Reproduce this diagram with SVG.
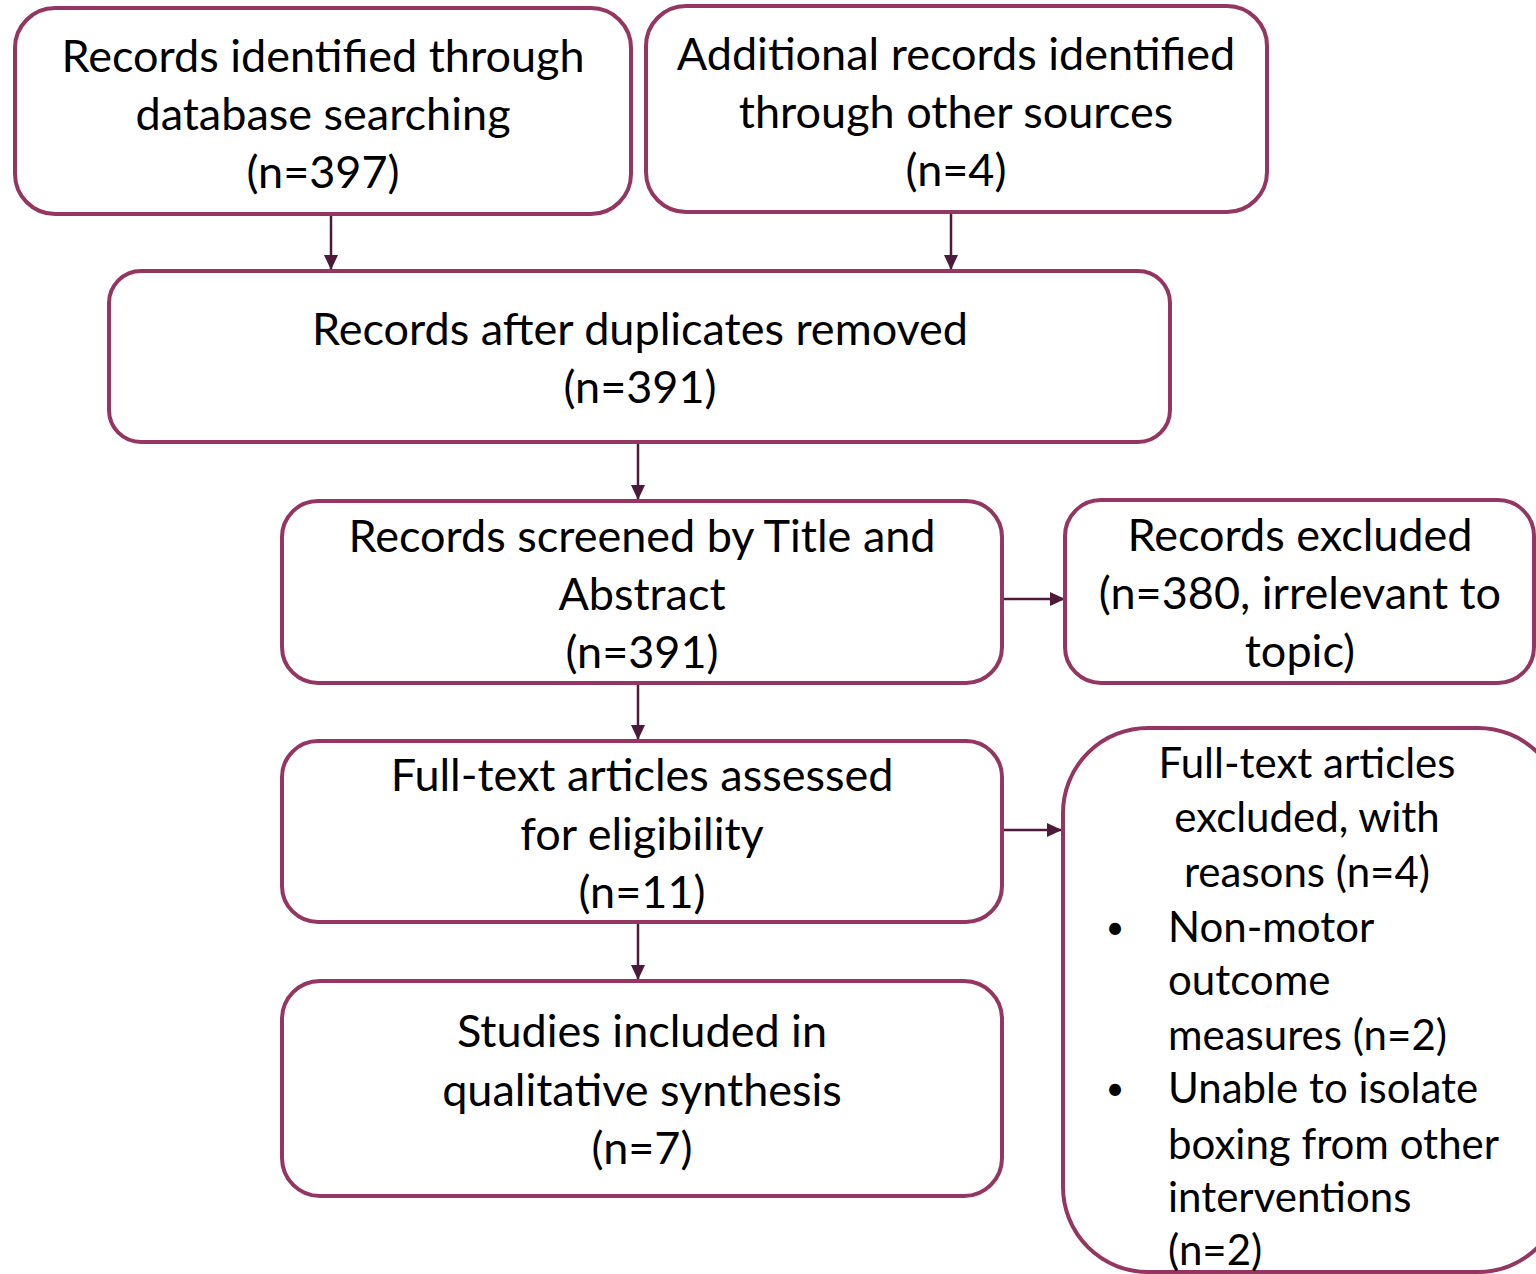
<svg xmlns="http://www.w3.org/2000/svg" width="1536" height="1274" viewBox="0 0 1536 1274">
<defs>
<style>
.box{fill:#fff;stroke:#953562;stroke-width:4}
.t{font-family:Lato,"Liberation Sans",sans-serif;font-size:45px;fill:#000;text-anchor:middle}
.s{font-family:Lato,"Liberation Sans",sans-serif;font-size:42px;fill:#000;text-anchor:middle}
.l{font-family:Lato,"Liberation Sans",sans-serif;font-size:42px;fill:#000}
.b{font-family:Lato,"Liberation Sans",sans-serif;font-size:32px;fill:#000;text-anchor:middle}
.c{stroke:#4d1a3a;stroke-width:2.5;fill:none;marker-end:url(#ah)}
</style>
<marker id="ah" markerWidth="15" markerHeight="14" refX="15" refY="7" orient="auto" markerUnits="userSpaceOnUse">
<path d="M0,0 L15,7 L0,14 Z" fill="#4d1a3a"/>
</marker>
</defs>
<rect width="1536" height="1274" fill="#fff"/>
<g id="connectors">
<line class="c" x1="331" y1="215" x2="331" y2="270"/>
<line class="c" x1="951" y1="213" x2="951" y2="270"/>
<line class="c" x1="638" y1="443" x2="638" y2="500"/>
<line class="c" x1="1004" y1="599" x2="1065" y2="599"/>
<line class="c" x1="638" y1="684" x2="638" y2="740"/>
<line class="c" x1="1004" y1="830" x2="1062" y2="830"/>
<line class="c" x1="638" y1="923" x2="638" y2="980"/>
</g>
<g id="n1">
<rect class="box" x="15" y="8" width="616" height="206" rx="40"/>
<text class="t" x="323" y="72">Records identified through</text>
<text class="t" x="323" y="130">database searching</text>
<text class="t" x="323" y="188">(n=397)</text>
</g>
<g id="n2">
<rect class="box" x="646" y="6" width="621" height="206" rx="40"/>
<text class="t" x="956" y="70">Additional records identified</text>
<text class="t" x="956" y="128">through other sources</text>
<text class="t" x="956" y="186">(n=4)</text>
</g>
<g id="n3">
<rect class="box" x="109" y="271" width="1061" height="171" rx="32"/>
<text class="t" x="640" y="345">Records after duplicates removed</text>
<text class="t" x="640" y="403">(n=391)</text>
</g>
<g id="n4">
<rect class="box" x="282" y="501" width="720" height="182" rx="36"/>
<text class="t" x="642" y="552">Records screened by Title and</text>
<text class="t" x="642" y="610">Abstract</text>
<text class="t" x="642" y="668">(n=391)</text>
</g>
<g id="n5">
<rect class="box" x="1065" y="500" width="469" height="183" rx="36"/>
<text class="t" x="1300" y="551">Records excluded</text>
<text class="t" x="1300" y="609">(n=380, irrelevant to</text>
<text class="t" x="1300" y="667">topic)</text>
</g>
<g id="n6">
<rect class="box" x="282" y="741" width="720" height="181" rx="36"/>
<text class="t" x="642" y="791">Full-text articles assessed</text>
<text class="t" x="642" y="850">for eligibility</text>
<text class="t" x="642" y="908">(n=11)</text>
</g>
<g id="n7">
<rect class="box" x="282" y="981" width="720" height="215" rx="38"/>
<text class="t" x="642" y="1047">Studies included in</text>
<text class="t" x="642" y="1106">qualitative synthesis</text>
<text class="t" x="642" y="1164">(n=7)</text>
</g>
<g id="n8">
<rect class="box" x="1063" y="728" width="500" height="544" rx="85"/>
<text class="s" x="1307" y="778">Full-text articles</text>
<text class="s" x="1307" y="832">excluded, with</text>
<text class="s" x="1307" y="887">reasons (n=4)</text>
<text class="b" x="1115" y="939">•</text>
<text class="l" x="1168" y="942">Non-motor</text>
<text class="l" x="1168" y="995">outcome</text>
<text class="l" x="1168" y="1050">measures (n=2)</text>
<text class="b" x="1115" y="1100">•</text>
<text class="l" x="1168" y="1103">Unable to isolate</text>
<text class="l" x="1168" y="1159">boxing from other</text>
<text class="l" x="1168" y="1212">interventions</text>
<text class="l" x="1168" y="1265">(n=2)</text>
</g>
</svg>
